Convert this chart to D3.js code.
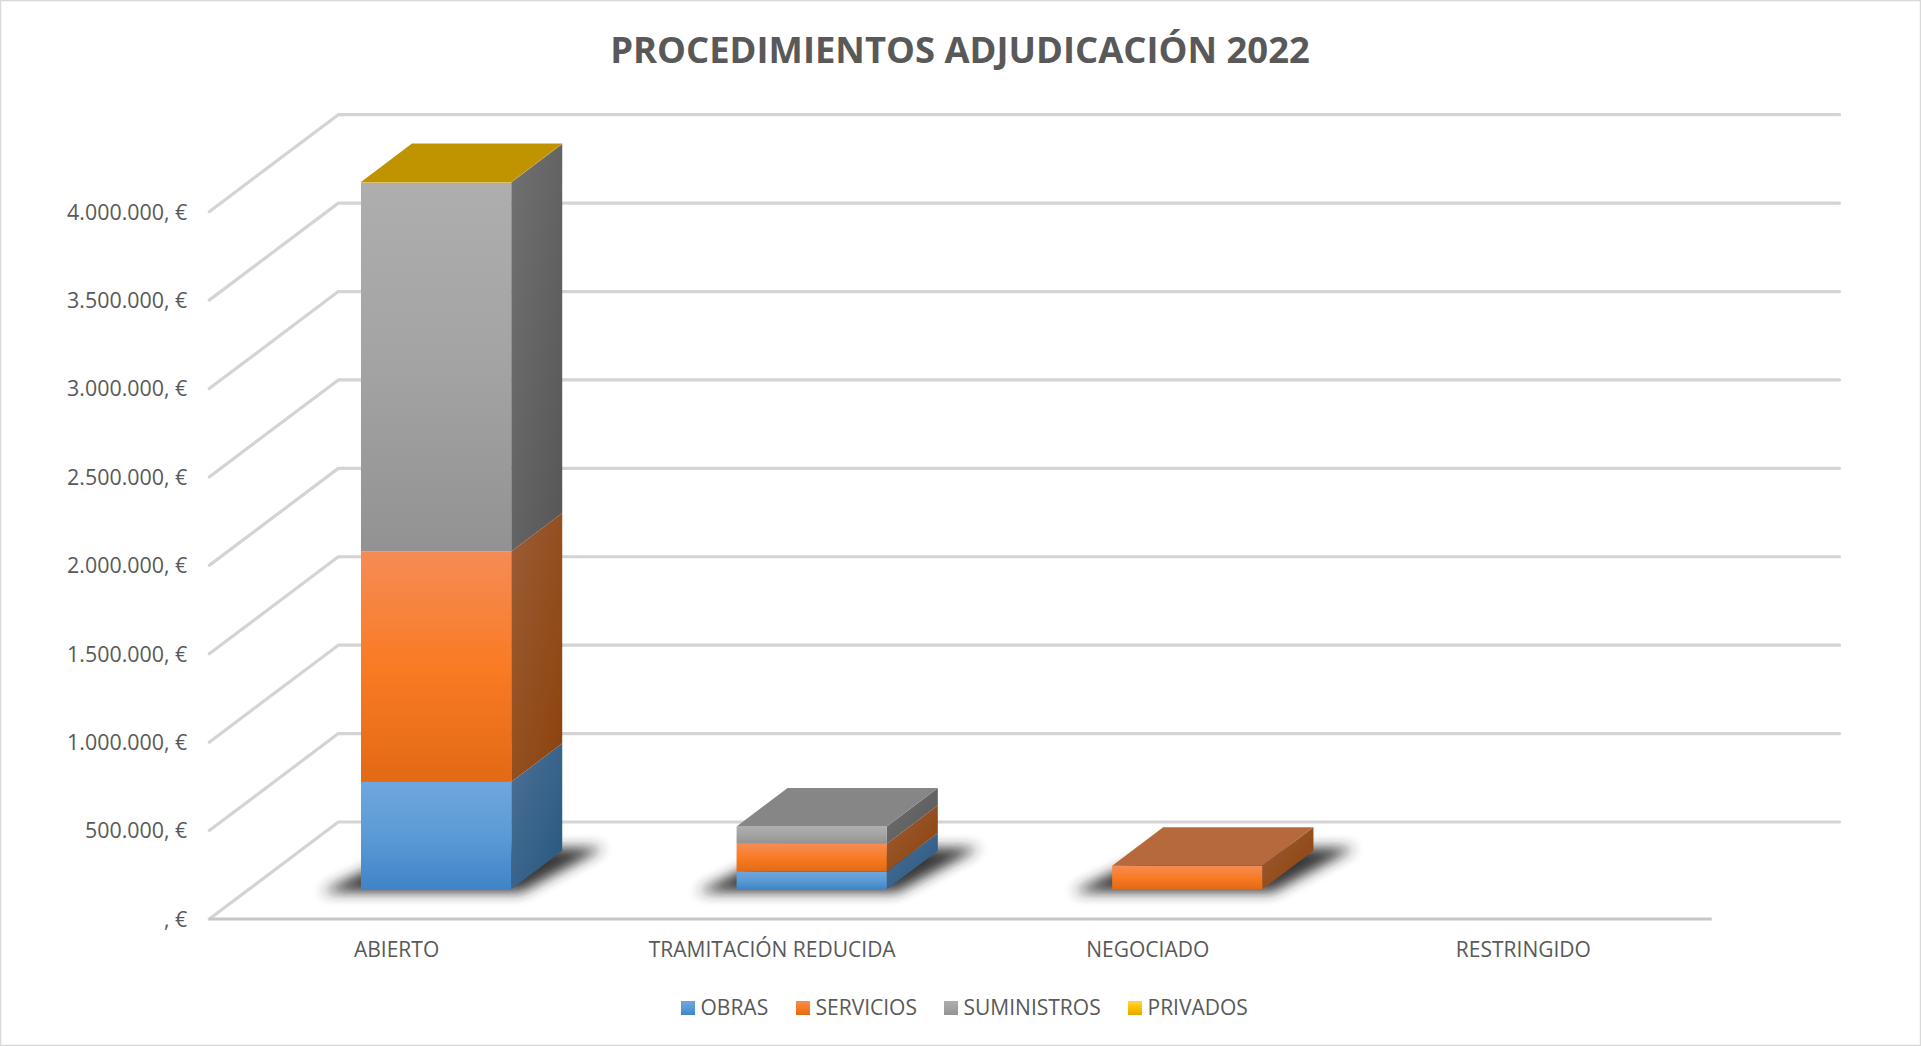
<!DOCTYPE html>
<html lang="es">
<head>
<meta charset="utf-8">
<title>Procedimientos adjudicación 2022</title>
<script src="https://cdn.jsdelivr.net/npm/d3@7"></script>
<style>
html,body{margin:0;padding:0;background:#fff;overflow:hidden}
svg{display:block}
text{font-family:"Open Sans",sans-serif;fill:#595959}
</style>
</head>
<body>
<svg id="chart" width="1921" height="1046"></svg>
<script>
const titleText = "PROCEDIMIENTOS ADJUDICACIÓN 2022";
const categories = ["ABIERTO", "TRAMITACIÓN REDUCIDA", "NEGOCIADO", "RESTRINGIDO"];
const seriesNames = ["OBRAS", "SERVICIOS", "SUMINISTROS", "PRIVADOS"];
const obras = [607000, 100000, 0, 0];
const servicios = [1303000, 157000, 133000, 0];
const suministros = [2087000, 98000, 0, 0];
const privados = [3000, 0, 0, 0];
const yTicks = [0, 500000, 1000000, 1500000, 2000000, 2500000, 3000000, 3500000, 4000000];
const frontColors = [["#70A6DF", "#5B9BD5", "#4084C7"], ["#F58C55", "#F97B24", "#E26A14"], ["#AEAEAE", "#A3A3A3", "#929292"], ["#FFD34D", "#FFC000", "#E0A800"]];
const sideColors = [["#4C7096", "#27577F"], ["#9C5C36", "#8C420B"], ["#717171", "#565656"], ["#A68420", "#8F6C00"]];
const topColors = ["#3F6E9C", "#B5693D", "#868686", "#C09300"];
const legendX = [681, 796, 944, 1128];

const W = 1921, H = 1046;
const floorY = 919, topY = 211.7, left = 209.3, right = 1711.7;
const wallDX = 129, wallDY = 97, backRight = 1839.5;
const barDX = 51, barDY = 38.6, barBaseY = 889.3, barShift = 39;
const labelSize = 21, tickSize = 21.4;

const svg = d3.select("#chart");
const defs = svg.append("defs");

const y = d3.scaleLinear().domain([0, 4000000]).range([floorY, topY]);
const xLabels = d3.scaleBand().domain(categories).range([left, right]);
const xBars = d3.scaleBand().domain(categories)
  .range([left + barShift, right + barShift]).paddingInner(0.6).paddingOuter(0.3);
const barRise = floorY - barBaseY;

const seriesValues = [obras, servicios, suministros, privados];
const stacked = categories.map((c, i) => {
  let acc = 0;
  return seriesNames.map((s, k) => {
    const v = seriesValues[k][i];
    const seg = {cat: c, k, v, y0: acc, y1: acc + v};
    acc += v;
    return seg;
  });
});

// gradients
frontColors.forEach((cols, k) => {
  const g = defs.append("linearGradient").attr("id", "front" + k)
    .attr("x1", 0).attr("y1", 0).attr("x2", 0).attr("y2", 1);
  cols.forEach((c, j) => g.append("stop").attr("offset", j / (cols.length - 1)).attr("stop-color", c));
});
sideColors.forEach((cols, k) => {
  const g = defs.append("linearGradient").attr("id", "side" + k)
    .attr("x1", 0).attr("y1", 0).attr("x2", 1).attr("y2", 1);
  cols.forEach((c, j) => g.append("stop").attr("offset", j).attr("stop-color", c));
});
defs.append("filter").attr("id", "shadowBlur")
  .attr("x", "-30%").attr("y", "-60%").attr("width", "160%").attr("height", "220%")
  .append("feGaussianBlur").attr("stdDeviation", 6.5);

// frame
svg.append("rect").attr("x", 0.5).attr("y", 0.5).attr("width", W - 1).attr("height", H - 1)
  .attr("fill", "#fff").attr("stroke", "#D9D9D9").attr("stroke-width", 1.5);

// title
svg.append("text").attr("x", 960).attr("y", 62.5).attr("text-anchor", "middle")
  .attr("font-size", 36.4).attr("font-weight", 700).text(titleText);

// gridlines: side wall + back wall
const line = d3.line();
svg.append("g").selectAll("path").data(yTicks).join("path")
  .attr("d", d => line([[left, y(d)], [left + wallDX, y(d) - wallDY], [backRight, y(d) - wallDY]]))
  .attr("fill", "none").attr("stroke", "#D4D4D4").attr("stroke-width", 3.2)
  .attr("stroke-linejoin", "round").attr("stroke-linecap", "round");

// floor front line
svg.append("path").attr("d", line([[left, y(0)], [right, y(0)]]))
  .attr("stroke", "#C6C6C6").attr("stroke-width", 3).attr("fill", "none");

// axes
const euro = d3.formatLocale({decimal: ",", thousands: ".", grouping: [3], currency: ["", " €"]});
const yFmt = v => (v === 0 ? "" : euro.format(",")(v)) + ", €";
const yAxis = svg.append("g").attr("transform", `translate(${left},0.5)`)
  .call(d3.axisLeft(y).tickValues(yTicks).tickFormat(yFmt).tickSize(0).tickPadding(22));
yAxis.select(".domain").remove();
yAxis.selectAll("text").attr("font-size", tickSize).attr("font-family", '"Open Sans",sans-serif').attr("fill", "#595959");

const xAxis = svg.append("g").attr("transform", `translate(-0.5,${floorY})`)
  .call(d3.axisBottom(xLabels).tickSize(0).tickPadding(23));
xAxis.select(".domain").remove();
xAxis.selectAll("text").attr("font-size", labelSize).attr("font-family", '"Open Sans",sans-serif').attr("fill", "#595959");

// bars
const gBars = svg.append("g");
stacked.forEach((segs, i) => {
  const total = d3.sum(segs, s => s.v);
  if (!total) return;
  const cat = categories[i];
  const x0 = xBars(cat), x1 = x0 + xBars.bandwidth();
  const yv = v => y(v) - barRise;

  // cast shadow on the floor
  gBars.append("path")
    .attr("d", line([
      [x0 - 40, yv(0) + 3],
      [x1 + 10, yv(0) + 3],
      [x1 + barDX + 42, yv(0) - barDY - 3],
      [x0 + barDX, yv(0) - barDY - 3]
    ]) + "Z")
    .attr("fill", "#262626").attr("opacity", 0.92).attr("filter", "url(#shadowBlur)");

  const visible = segs.filter(s => s.v > 0);
  visible.forEach(s => {
    const yt = yv(s.y1), yb = yv(s.y0);
    gBars.append("path")
      .attr("d", line([[x1, yt], [x1 + barDX, yt - barDY], [x1 + barDX, yb - barDY], [x1, yb]]) + "Z")
      .attr("fill", `url(#side${s.k})`);
    gBars.append("rect").attr("x", x0).attr("y", yt).attr("width", x1 - x0).attr("height", yb - yt)
      .attr("fill", `url(#front${s.k})`);
  });
  const last = visible[visible.length - 1];
  const yt = yv(last.y1);
  gBars.append("path")
    .attr("d", line([[x0, yt], [x1, yt], [x1 + barDX, yt - barDY], [x0 + barDX, yt - barDY]]) + "Z")
    .attr("fill", topColors[last.k]);
});

// legend
const gLegend = svg.append("g");
seriesNames.forEach((name, k) => {
  gLegend.append("rect").attr("x", legendX[k]).attr("y", 1001).attr("width", 14).attr("height", 14)
    .attr("fill", `url(#front${k})`);
  gLegend.append("text").attr("x", legendX[k] + 19.5).attr("y", 1014.5)
    .attr("font-size", labelSize).text(name);
});
</script>
</body>
</html>
